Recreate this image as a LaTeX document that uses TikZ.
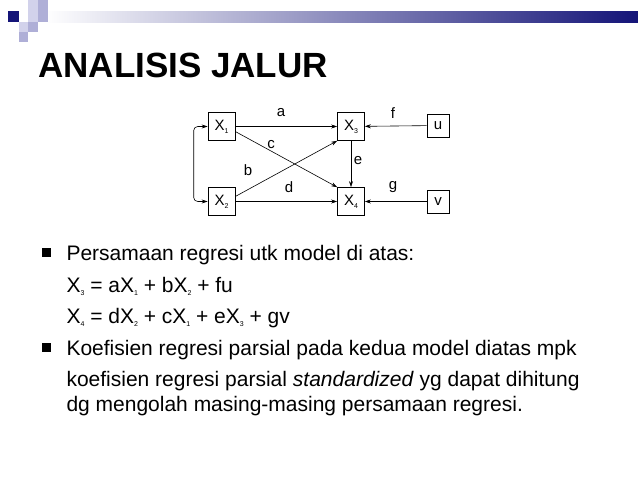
\documentclass[tikz,border=0pt]{standalone}
\usepackage{fontspec}
\setmainfont{Liberation Sans}
\usetikzlibrary{arrows.meta}
\definecolor{navy}{RGB}{20,20,120}
\definecolor{lav}{RGB}{175,175,215}
\definecolor{lav2}{RGB}{210,210,235}
\newcommand{\sbs}[1]{\raisebox{-3pt}{\scriptsize #1}}
\begin{document}
\begin{tikzpicture}[x=1pt,y=-1pt,
  box/.style={draw,line width=0.6pt,minimum width=27pt,minimum height=28pt,inner sep=0pt,font=\fontsize{15}{17}\selectfont},
  sbox/.style={draw,line width=0.6pt,minimum width=22pt,minimum height=23pt,inner sep=0pt,font=\fontsize{15}{17}\selectfont},
  arr/.style={-{Stealth[length=6pt,width=4pt]},line width=0.6pt},
  lab/.style={font=\fontsize{15}{17}\selectfont},
  body/.style={anchor=base west,font=\fontsize{21}{25}\selectfont},
  bul/.style={fill=black,minimum size=9pt,inner sep=0pt}]
\useasboundingbox (0,0) rectangle (638,479);
% decoration
\shade[left color=white,right color=navy] (45,11) rectangle (638,22);
\fill[lav2] (28,0) rectangle (38,11);
\fill[lav] (38,0) rectangle (48,11);
\fill[lav2] (28,11) rectangle (38,22);
\fill[lav] (38,11) rectangle (48,22);
\fill[navy] (8,11) rectangle (19,22);
\fill[lav2] (19,22) rectangle (28,32);
\fill[lav] (28,22) rectangle (38,32);
\fill[lav] (19,32) rectangle (28,42);
\node[anchor=base west,font=\fontsize{35}{40}\selectfont\bfseries,inner sep=0pt] (title) at (38,77) {ANALISIS JALUR};
% diagram
\node[box] (x1) at (221.5,126.5) {X\sbs{1}};
\node[box] (x3) at (351,126.5) {X\sbs{3}};
\node[box] (x2) at (221.5,201.5) {X\sbs{2}};
\node[box] (x4) at (351,201.5) {X\sbs{4}};
\node[sbox] (u) at (438,125.5) {u};
\node[sbox] (v) at (438,201.5) {v};
\draw[arr] (x1) -- (x3);
\draw[arr] (x2) -- (x4);
\draw[arr] (u) -- (x3);
\draw[arr] (v) -- (x4);
\draw[arr] (x3) -- (x4);
\draw[arr] (x1.east) ++(0,5) coordinate (c1) -- (x4.north west);
\draw[arr] (x2.east) ++(0,-5) coordinate (c2) -- (x3.south west);
\draw[{Stealth[length=6pt,width=4pt]}-{Stealth[length=6pt,width=4pt]},line width=0.6pt,rounded corners=4pt] (x1.west) -- ++(-14,0) -- ++(0,75) -- (x2.west);
\node[lab] (la) at (281,113) {a};
\node[lab] (lc) at (271,145) {c};
\node[lab] (lb) at (248,170) {b};
\node[lab] (ld) at (289,187) {d};
\node[lab] (le) at (358,161) {e};
\node[lab] (lf) at (393,113) {f};
\node[lab] (lg) at (393,187) {g};
% text
\node[bul] (b1) at (46,252) {};
\node[body] (t1) at (63,260) {Persamaan regresi utk model di atas:};
\node[body] (t2) at (63,292) {X\sbs{3} = aX\sbs{1} + bX\sbs{2} + fu};
\node[body] (t3) at (63,323) {X\sbs{4} = dX\sbs{2} + cX\sbs{1} + eX\sbs{3} + gv};
\node[bul] (b2) at (46,347) {};
\node[body] (t4) at (63,355) {Koefisien regresi parsial pada kedua model diatas mpk};
\node[body] (t5) at (63,386) {koefisien regresi parsial \textit{standardized} yg dapat dihitung};
\node[body] (t6) at (63,411) {dg mengolah masing-masing persamaan regresi.};
\end{tikzpicture}
\end{document}
